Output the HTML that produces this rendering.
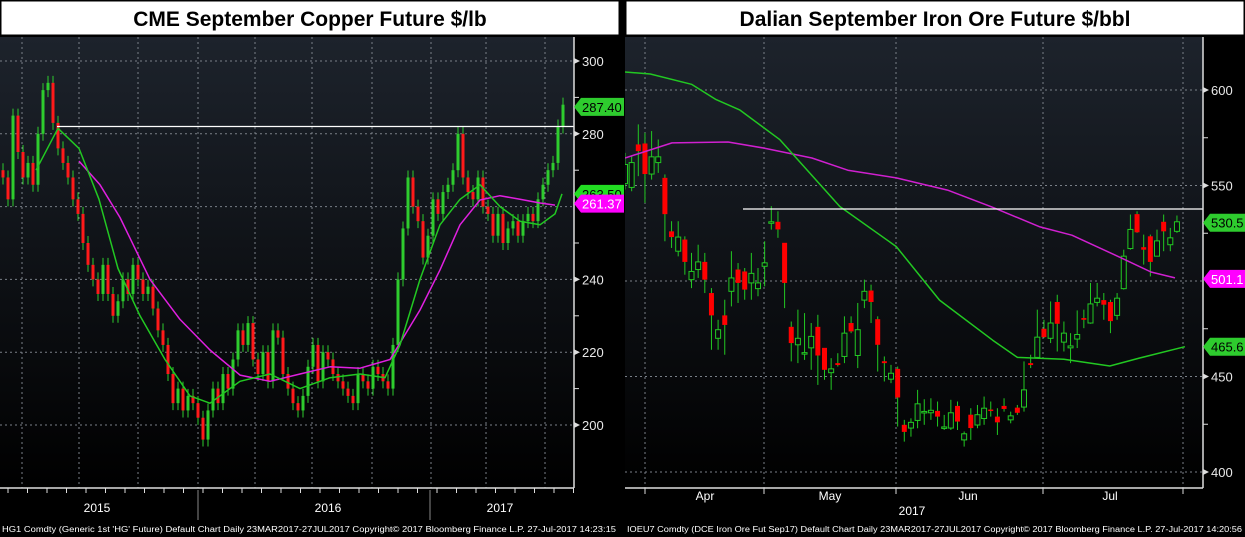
<!DOCTYPE html>
<html><head><meta charset="utf-8"><style>
html,body{margin:0;padding:0;background:#000;}
svg{display:block;font-family:"Liberation Sans",sans-serif;}
</style></head><body>
<svg id="root" width="1245" height="537" viewBox="0 0 1245 537">
<defs>
<linearGradient id="bg" x1="0" y1="0" x2="0" y2="1"><stop offset="0" stop-color="#1d232c"/><stop offset="1" stop-color="#000"/></linearGradient>
<clipPath id="cl"><rect x="0" y="37" width="574" height="451"/></clipPath>
<clipPath id="cr"><rect x="625" y="37" width="578" height="451"/></clipPath>
</defs>
<rect x="0" y="0" width="1245" height="537" fill="#000"/>
<rect x="0" y="37" width="574" height="451" fill="url(#bg)"/>
<rect x="625" y="37" width="578" height="451" fill="url(#bg)"/>
<rect x="1" y="1" width="618" height="34" fill="#fff" stroke="#000"/>
<text x="310" y="26" text-anchor="middle" font-size="21" font-weight="bold" fill="#000">CME September Copper Future $/lb</text>
<rect x="626" y="1" width="618" height="34" fill="#fff" stroke="#000"/>
<text x="935" y="26" text-anchor="middle" font-size="21" font-weight="bold" fill="#000">Dalian September Iron Ore Future $/bbl</text>
<g id="L"></g><g id="R"></g>
<text x="2" y="532" font-size="8" fill="#fff" textLength="614" lengthAdjust="spacingAndGlyphs">HG1 Comdty (Generic 1st 'HG' Future) Default Chart  Daily 23MAR2017-27JUL2017     Copyright© 2017 Bloomberg Finance L.P.     27-Jul-2017 14:23:15</text>
<text x="627" y="532" font-size="8" fill="#fff" textLength="615" lengthAdjust="spacingAndGlyphs">IOEU7 Comdty (DCE Iron Ore Fut  Sep17) Default Chart  Daily 23MAR2017-27JUL2017   Copyright© 2017 Bloomberg Finance L.P.   27-Jul-2017 14:20:56</text>
</svg>
<script>
// ---- Copper (left) ----
const cuCloses=[268,262,285,275,268,272,266,280,292,294,283,276,272,268,262,258,250,244,240,236,244,236,230,234,240,236,244,240,236,238,232,226,222,214,206,210,204,208,206,202,196,204,210,206,214,210,218,226,222,228,218,214,220,212,226,224,214,210,206,204,208,216,222,212,220,218,214,212,210,208,206,214,212,210,216,214,212,210,222,240,254,268,260,256,246,252,262,258,264,266,270,280,268,264,262,268,260,258,252,258,250,254,256,252,256,258,256,262,266,270,272,282,288];
const cuMa50Idx=[6.6,11,15.2,19.2,23,27.4,32.4,37.4,41.4,47.4,53.4,59.4,65.4,71.4,76.4,79.4,83.4,87.4,91.4,95.4,99.4,103.4,107.4,110.4,111.8];
const cuMa50=[270,281.5,276,262,243,230,218,208,206,212,214,210,213,214,213,222,240,255,262,266,260,256,255,258,263.5];
const cuMa100Idx=[15.2,19.4,23.4,29.4,35.4,41.4,47.4,53.4,59.4,65.4,71.4,77.4,83.4,87.4,91.4,95.4,99.4,103.4,107.4,110.4];
const cuMa100=[272.5,266,257,240,229,220.6,213.7,212,214,216,215.6,218,231.6,242.6,255,261.8,263,262,261,260.4];
const cuTicks=[300,280,260,240,220,200];
const cuYears=["2015","2016","2017"];
// ---- Iron ore (right) ----
const feOpen=[551,549,571.5,572,556,562,554,526,515.6,521.7,500.7,506,510,493.7,470,482,494.6,506,505,499,496,507.7,530.5,531,520,476,466.6,462,465,476,465,452,457,460.5,478,461,490,495,480,458,448.6,454,424.7,423,427,431.3,431,432,423.2,423,434.6,416.8,430,424.6,428,432.7,429,434.6,427.3,433.7,434,457,460,475,470,489,468,465,469.6,480.6,478,488.8,490,489,482,496,517,535,517.7,523.4,513,531,519,526];
const feClose=[561,562,568,556,565,565,535,523,523,510,505,510,500.7,482,474.5,477,501.6,499,495.5,504,499,509.5,531,527,499,467.5,470,462.5,471,461,453.5,454,456,472.7,473.6,474.5,494.6,489,466.6,457,451.7,439,421,426,435.7,431.7,432.3,429,423.6,431,426.4,420,423,430,433.4,432.3,426,433,429.4,431,443,456,470.6,470.6,478,477.6,472.7,466,472,479.7,488,491,487.6,479,491,513,527,525.5,516.4,510,521,526,522.6,531];
const feHigh=[567.1,565.4,582,577.6,578.5,574.1,555.8,531.3,531.3,523.4,514.7,519,514.7,496.3,479.7,490.2,515.6,509.4,506.8,514.7,506.8,520.8,539.2,536.5,519.9,478.8,485,483.2,478,482.3,464.9,459.6,462.2,481.5,481.5,488.5,500.7,498.1,481.5,460.5,456.1,455.2,427.3,428.1,443,438.1,438.6,436.9,429.9,437.8,436.9,421.2,433.4,435.1,439.5,436.9,433.4,438.6,431.6,435.1,457.9,461.4,485,479.7,489.3,492.8,478.8,472.7,484.6,485,499,499,493.7,490.2,493.7,516.4,534.8,536.5,524.3,524.3,526.9,534.8,527.8,534.3];
const feLow=[547.9,547,554.9,540.9,553.1,556.6,520.8,517.3,512.9,503.3,496.3,501.6,493.7,464,464,461.4,486.7,488.5,490.2,490.2,492,497.2,526.9,522.6,485.8,457.9,457,458.7,453.5,445.6,448.3,443,455.2,457,472.7,454.4,485.8,478,452.6,447.4,446.5,423.8,415.9,418.5,422.9,424.7,427.3,423.8,422,422,422,413.3,416.8,422.9,424.7,429,419.4,431.6,425.5,429.9,431.6,454.4,459.6,470.1,467.5,463.1,463.1,457,464.9,475.3,477.6,486.7,479.7,472.7,479.7,495.5,516.4,525.2,508.6,502.4,512.9,515.6,515.6,525.2];
const feMa50Idx=[0,3.8,10,13.7,17.3,23.3,32.3,40.8,47.3,55.3,59,66,72.9,77.4,84.2];
const feMa50=[609.4,608.4,603,595,589.5,574,539,518,490,469,460,459,455.5,459.7,465.6];
const feMa100Idx=[0,7.07,15.5,20.9,28.1,33.5,40.8,48.5,55.2,62.4,67.2,74.3,79.1,82.7];
const feMa100=[564.4,572.3,572.8,569.6,564.4,558,554,547.6,538.7,528.3,524,512.6,504.7,501.6];
const feTicks=[600,550,500,450,400];
const feMonths=["Apr","May","Jun","Jul"];

const NS="http://www.w3.org/2000/svg";
function mk(parent,tag,attrs){const e=document.createElementNS(NS,tag);for(const k in attrs)e.setAttribute(k,attrs[k]);parent.appendChild(e);return e;}
const yL=p=>425-(p-200)*3.64, xL=i=>3+i*5;
const yR=p=>472-(p-400)*1.91, xR=i=>625+i*6.65;
const L=document.getElementById('L'), R=document.getElementById('R');

[22,79,138,198,255,312,372,431,486,545].forEach(x=>{const g=mk(L,'line',{x1:x,x2:x,y1:37,y2:488,stroke:'#7a8088','stroke-width':1,'stroke-dasharray':'2,3'});

});
cuTicks.forEach(t=>{const g=mk(L,'line',{x1:0,x2:574,y1:yL(t),y2:yL(t),stroke:'#7a8088','stroke-width':1,'stroke-dasharray':'2,3'});

});
[645,764,896,1043,1183].forEach(x=>{const g=mk(R,'line',{x1:x,x2:x,y1:37,y2:488,stroke:'#7a8088','stroke-width':1,'stroke-dasharray':'2,3'});

});
feTicks.forEach(t=>{const g=mk(R,'line',{x1:625,x2:1203,y1:yR(t),y2:yR(t),stroke:'#7a8088','stroke-width':1,'stroke-dasharray':'2,3'});

});

const cg=mk(L,'g',{'clip-path':'url(#cl)'});
for(let i=0;i<cuCloses.length;i++){
  const o=i?cuCloses[i-1]:cuCloses[0]+2, c=cuCloses[i], up=c>=o, col=up?'#2ecc2e':'#ff1a1a';
  const top=yL(Math.max(o,c)), bot=yL(Math.min(o,c));
  const w=mk(cg,'line',{x1:xL(i),x2:xL(i),y1:top-7,y2:bot+7,stroke:'#2ecc2e','stroke-width':1});
  
  
  const b=mk(cg,'rect',{x:xL(i)-1.5,y:top,width:3,height:Math.max(1,bot-top),fill:col});
  
  
}
function line(par,idx,vals,xf,yf,col,name){const d=idx.map((v,k)=>(k?'L':'M')+xf(v).toFixed(1)+','+yf(vals[k]).toFixed(1)).join('');
const p=mk(par,'path',{d:d,fill:'none',stroke:col,'stroke-width':1.5,'stroke-linejoin':'round'});

}
line(cg,cuMa100Idx,cuMa100,xL,yL,'#e020e0','copper-ma-100');
line(cg,cuMa50Idx,cuMa50,xL,yL,'#22c822','copper-ma-50');
const wl=mk(L,'line',{x1:57,x2:574,y1:yL(282),y2:yL(282),stroke:'#fff','stroke-width':1.3});



const rg=mk(R,'g',{'clip-path':'url(#cr)'});
for(let i=0;i<feOpen.length;i++){
  const o=feOpen[i],c=feClose[i],up=c>=o,col=up?'#22c822':'#ff0000';
  const x=xR(i), top=yR(Math.max(o,c)), bot=yR(Math.min(o,c));
  const w=mk(rg,'line',{x1:x,x2:x,y1:yR(feHigh[i]),y2:yR(feLow[i]),stroke:'#22c822','stroke-width':1});
  
  
  const b=mk(rg,'rect',{x:x-2.5,y:top,width:5,height:Math.max(1.5,bot-top),fill:up?'#0a0d10':col,stroke:up?col:'none','stroke-width':1});
  
  
}
line(rg,feMa100Idx,feMa100,xR,yR,'#d020d0','iron-ma-100');
line(rg,feMa50Idx,feMa50,xR,yR,'#22c822','iron-ma-50');
const wr=mk(R,'line',{x1:743,x2:1203,y1:209,y2:209,stroke:'#fff','stroke-width':1.3});



function axis(par,x,yf,ticks,minor,name,hidden){
  const a=mk(par,'line',{x1:x,x2:x,y1:37,y2:488,stroke:'#ddd','stroke-width':1.5});
  
  
  minor.forEach(t=>{const m=mk(par,'line',{x1:x,x2:x+5,y1:yf(t),y2:yf(t),stroke:'#ddd'});
  
  });
  ticks.forEach(t=>{if(hidden.includes(t))return;
    const tr=mk(par,'path',{d:`M${x},${yf(t)-3}L${x+6},${yf(t)}L${x},${yf(t)+3}Z`,fill:'#ddd'});
    
    
    const tx=mk(par,'text',{x:x+8,y:yf(t)+5,'font-size':13,fill:'#e8e8e8'});tx.textContent=t;
    
    });
}
axis(L,574,yL,cuTicks,[290,270,250,230,210],'copper',[260]);
axis(R,1203,yR,feTicks,[575,525,475,425],'iron',[500]);
function tag(par,x,y,txt,bg,fg,name){
  const p=mk(par,'path',{d:`M${x},${y}L${x+7},${y-9}H${x+50}V${y+9}H${x+7}Z`,fill:bg});
  
  
  const t=mk(par,'text',{x:x+8,y:y+5,'font-size':13,fill:fg});t.textContent=txt;
  
  
}
tag(L,574,yL(263.5),'263.50','#22dd22','#000','copper-ma50-tag');
tag(L,574,yL(261.37)+2,'261.37','#ff00ff','#fff','copper-ma100-tag');
tag(L,574,yL(287.4),'287.40','#2ecc2e','#000','copper-last-tag');
tag(R,1203,yR(530.5),'530.5','#2ecc2e','#000','iron-last-tag');
tag(R,1203,yR(501.1),'501.1','#ff00ff','#fff','iron-ma100-tag');
tag(R,1203,yR(465.6),'465.6','#2ecc2e','#000','iron-ma50-tag');

const bl=mk(L,'line',{x1:0,x2:574,y1:488,y2:488,stroke:'#ddd','stroke-width':1.5});


for(let x=8;x<574;x+=19.5){const m=mk(L,'line',{x1:x,x2:x,y1:488,y2:493,stroke:'#ddd'});

}
[198,430].forEach(x=>{const s=mk(L,'line',{x1:x,x2:x,y1:490,y2:520,stroke:'#888'});

});
[97,328,500].forEach((x,k)=>{const t=mk(L,'text',{x:x,y:512,'font-size':12,fill:'#fff','text-anchor':'middle'});t.textContent=cuYears[k];

});
const br=mk(R,'line',{x1:625,x2:1203,y1:488,y2:488,stroke:'#ddd','stroke-width':1.5});


[645,764,896,1043,1183].forEach(x=>{const m=mk(R,'line',{x1:x,x2:x,y1:488,y2:494,stroke:'#ddd'});

});
[705,830,968,1110].forEach((x,k)=>{const t=mk(R,'text',{x:x,y:500,'font-size':12,fill:'#fff','text-anchor':'middle'});t.textContent=feMonths[k];

});
const yr=mk(R,'text',{x:912,y:515,'font-size':12,fill:'#fff','text-anchor':'middle'});yr.textContent='2017';


</script>
</body></html>
